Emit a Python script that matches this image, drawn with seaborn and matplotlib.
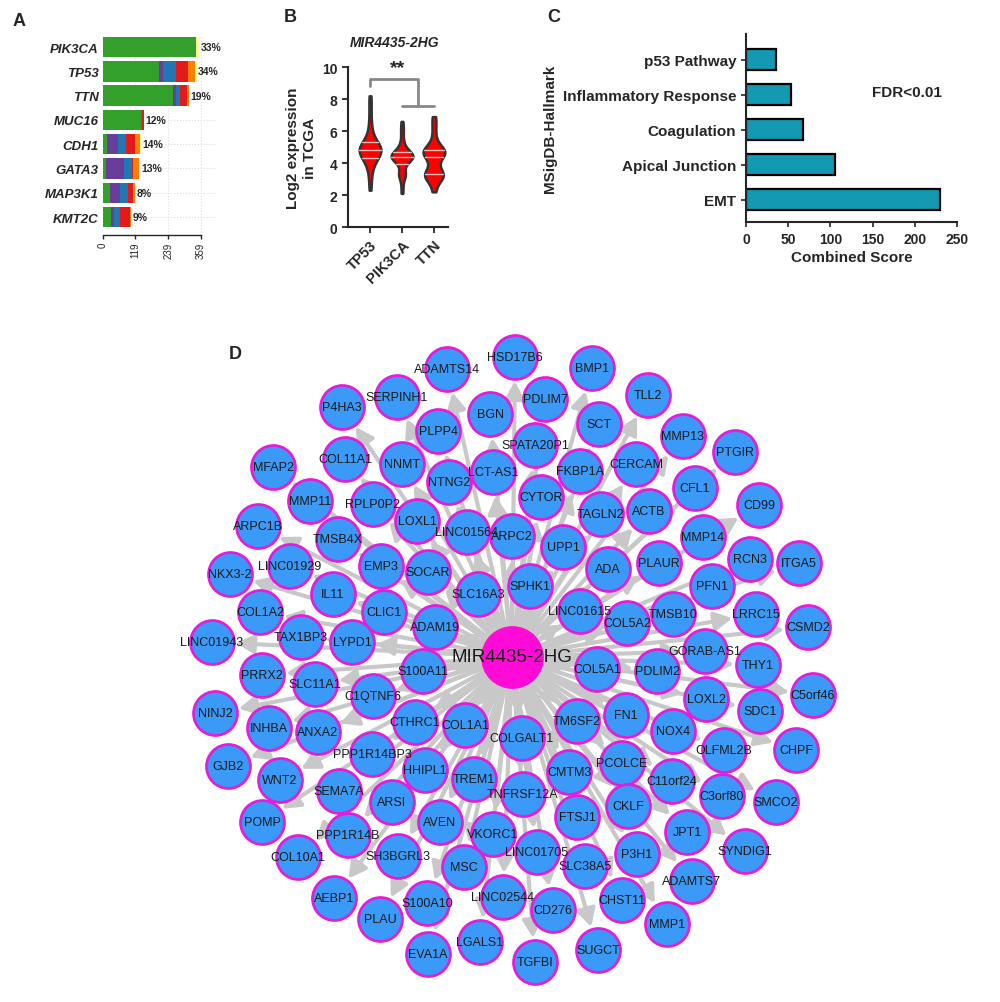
import numpy as np
import pandas as pd
import matplotlib
matplotlib.use("Agg")
import matplotlib.pyplot as plt
import seaborn as sns

sns.set_theme(style="ticks")
plt.rcParams['font.family'] = ['Liberation Sans', 'DejaVu Sans']

W, H = 1000, 1003

# ---------------- Panel A: mutation counts per gene ----------------
genes_a = ["PIK3CA", "TP53", "TTN", "MUC16", "CDH1", "GATA3", "MAP3K1", "KMT2C"]
pct_a = ["33%", "34%", "19%", "12%", "14%", "13%", "8%", "9%"]
missense = [342, 205, 258, 141, 15, 12, 25, 28]
frame_ins = [0, 16, 11, 0, 39, 66, 37, 13]
frame_del = [0, 46, 12, 4, 32, 27, 29, 20]
nonsense = [0, 45, 27, 6, 33, 5, 20, 37]
splice = [0, 27, 7, 0, 16, 24, 5, 4]
inframe = [13, 6, 3, 0, 6, 3, 2, 2]
ticks_a = [0, 119, 239, 359]

# ---------------- Panel B: expression (log2) ----------------
groups_b = ["TP53", "PIK3CA", "TTN"]
expr_tp53 = [2.3, 2.8, 3.2, 3.5, 3.7, 3.9, 4.0, 4.1, 4.2, 4.3, 4.3, 4.4, 4.5, 4.5,
             4.6, 4.6, 4.7, 4.7, 4.8, 4.8, 4.8, 4.9, 4.9, 5.0, 5.0, 5.1, 5.1, 5.2,
             5.3, 5.3, 5.4, 5.5, 5.6, 5.8, 6.0, 6.3, 6.7, 7.2, 7.7, 8.2]
expr_pik3ca = [2.1, 2.6, 3.0, 3.2, 3.3, 3.3, 3.4, 3.7, 3.9, 4.0, 4.1, 4.2, 4.2, 4.3,
               4.3, 4.3, 4.4, 4.4, 4.4, 4.4, 4.5, 4.5, 4.5, 4.6, 4.6, 4.7, 4.7, 4.8,
               4.9, 5.0, 5.2, 5.5, 5.9, 6.2, 6.6]
expr_ttn = [2.2, 2.6, 2.9, 3.0, 3.1, 3.2, 3.2, 3.3, 3.3, 3.4, 3.5, 3.7, 3.9, 4.1,
            4.3, 4.4, 4.5, 4.6, 4.6, 4.7, 4.7, 4.8, 4.8, 4.9, 5.0, 5.2, 5.5, 6.0,
            6.5, 6.9]

# ---------------- Panel C: enrichment ----------------
terms_c = ["p53 Pathway", "Inflammatory Response", "Coagulation", "Apical Junction", "EMT"]
scores_c = [35, 53, 67, 105, 230]

# ---------------- Panel D: network (layout coordinates) ----------------
hub_name = "MIR4435-2HG"
hub_x, hub_y = 512, 658
node_names = [
    "HSD17B6", "ADAMTS14", "BMP1", "TLL2", "SERPINH1", "P4HA3", "PDLIM7", "BGN", "SCT",
    "MMP13", "PLPP4", "SPATA20P1", "PTGIR", "COL11A1", "NNMT", "LCT-AS1", "FKBP1A",
    "CERCAM", "MFAP2", "NTNG2", "CFL1", "MMP11", "RPLP0P2", "CYTOR", "CD99", "LOXL1",
    "TAGLN2", "ACTB", "ARPC1B", "LINC01564", "ARPC2", "MMP14", "TMSB4X", "UPP1", "RCN3",
    "ITGA5", "LINC01929", "EMP3", "SOCAR", "ADA", "PLAUR", "PFN1", "NKX3-2", "IL11",
    "SLC16A3", "SPHK1", "COL1A2", "CLIC1", "LINC01615", "COL5A2", "TMSB10", "LRRC15",
    "CSMD2", "ADAM19", "TAX1BP3", "LYPD1", "LINC01943", "GORAB-AS1", "THY1", "S100A11",
    "COL5A1", "PDLIM2", "PRRX2", "SLC11A1", "C5orf46", "C1QTNF6", "LOXL2", "SDC1",
    "NINJ2", "INHBA", "ANXA2", "CTHRC1", "COL1A1", "TM6SF2", "FN1", "NOX4", "CHPF",
    "COLGALT1", "OLFML2B", "PPP1R14BP3", "GJB2", "WNT2", "HHIPL1", "TREM1", "CMTM3",
    "PCOLCE", "C11orf24", "C3orf80", "SEMA7A", "TNFRSF12A", "SMCO2", "ARSI", "CKLF",
    "FTSJ1", "POMP", "AVEN", "VKORC1", "JPT1", "PPP1R14B", "SYNDIG1", "P3H1",
    "SH3BGRL3", "LINC01705", "SLC38A5", "COL10A1", "MSC", "ADAMTS7", "AEBP1", "PLAU",
    "S100A10", "LINC02544", "CD276", "CHST11", "MMP1", "SUGCT", "EVA1A", "LGALS1", "TGFBI",
]
node_x = [
    515, 447, 592, 648, 397, 342, 545, 490, 599,
    683, 438, 535, 735, 345, 402, 493, 580,
    636, 273, 449, 695, 310, 373, 541, 759, 417,
    601, 649, 258, 467, 512, 703, 338, 563, 750,
    799, 290, 381, 428, 608, 659, 712, 230, 333,
    478, 530, 260, 384, 580, 627, 673, 756,
    808, 435, 301, 352, 212, 705, 758, 423,
    597, 657, 262, 315, 813, 373, 706, 760,
    215, 269, 318, 415, 465, 577, 626, 673, 796,
    522, 724, 372, 228, 280, 425, 474, 569,
    622, 672, 722, 339, 523, 776, 392, 628,
    577, 262, 440, 493, 687, 348, 745, 637,
    398, 537, 585, 298, 464, 692, 334, 380,
    427, 503, 553, 622, 667, 598, 428, 480, 535,
]
node_y = [
    358, 370, 369, 396, 398, 408, 400, 415, 425,
    437, 432, 446, 453, 460, 465, 473, 472,
    465, 468, 483, 489, 502, 505, 498, 506, 522,
    515, 512, 527, 533, 537, 538, 540, 548, 560,
    564, 567, 567, 573, 570, 564, 587, 575, 595,
    595, 587, 613, 613, 612, 624, 615, 615,
    628, 628, 638, 643, 643, 652, 666, 672,
    670, 672, 676, 685, 696, 697, 700, 712,
    714, 729, 733, 723, 726, 722, 716, 732, 751,
    739, 751, 755, 767, 781, 771, 780, 773,
    764, 782, 797, 792, 795, 803, 803, 807,
    818, 823, 823, 835, 833, 836, 852, 855,
    857, 853, 867, 858, 868, 882, 899, 920,
    904, 898, 911, 901, 925, 951, 955, 943, 963,
]

fig = plt.figure(figsize=(W / 100, H / 100), dpi=100)


def fx(px):
    return px / W


def fy(py):
    return 1 - py / H


# ================= Panel D =================
axd = fig.add_axes([0, 0, 1, 1])
axd.set_xlim(0, W)
axd.set_ylim(H, 0)
axd.axis("off")
axd.patch.set_alpha(0)

node_r = 23
for x, y in zip(node_x, node_y):
    dx, dy = x - hub_x, y - hub_y
    d = np.hypot(dx, dy)
    ux, uy = dx / d, dy / d
    axd.annotate("", xy=(x - ux * (node_r + 1), y - uy * (node_r + 1)),
                 xytext=(hub_x + ux * 20, hub_y + uy * 20),
                 arrowprops=dict(arrowstyle="-|>,head_length=0.75,head_width=0.4",
                                 color="#c8c8c8", lw=3.0, shrinkA=0, shrinkB=0,
                                 mutation_scale=14),
                 zorder=1)

axd.scatter(node_x, node_y, s=1000, color="#3b99f7", edgecolors="#e21fd8",
            linewidths=2.0, zorder=2)
axd.scatter([hub_x], [hub_y], s=1950, color="#ff0ad6", edgecolors="#ff0ad6",
            linewidths=1, zorder=2)
for name, x, y in zip(node_names, node_x, node_y):
    axd.text(x, y, name, ha="center", va="center", fontsize=9, color="#1a1a1a", zorder=3)
axd.text(hub_x, hub_y, hub_name, ha="center", va="center", fontsize=13.5,
         color="#1a1a1a", zorder=3)

# ================= Panel A =================
axa = fig.add_axes([fx(103), fy(236), fx(216) - fx(103), 200 / H])
colors_a = ["#33a02c", "#6a3d9a", "#1f78b4", "#e31a1c", "#ff7f00", "#ffff99"]
layers = [missense, frame_ins, frame_del, nonsense, splice, inframe]
ypos = np.arange(len(genes_a))
for yv in ypos:
    axa.axhline(yv, color="#dddddd", ls=":", lw=0.8, zorder=0)
for xv in ticks_a[1:]:
    axa.axvline(xv, color="#dddddd", ls=":", lw=0.8, zorder=0)
left = np.zeros(len(genes_a))
for vals, col in zip(layers, colors_a):
    axa.barh(ypos, vals, left=left, height=0.84, color=col, linewidth=0, zorder=2)
    left = left + np.array(vals)
for yv, tot, p in zip(ypos, left, pct_a):
    axa.text(tot + 4, yv, p, ha="left", va="center", fontsize=7.5, fontweight="bold")
axa.set_xlim(0, 415)
axa.set_ylim(7.74, -0.5)
axa.set_yticks(ypos)
axa.set_yticklabels(genes_a, fontsize=9.5, fontweight="bold", fontstyle="italic")
axa.tick_params(axis="y", length=0, pad=3)
axa.set_xticks(ticks_a)
axa.set_xticklabels([str(t) for t in ticks_a], rotation=90, fontsize=7)
axa.tick_params(axis="x", length=3, width=1, pad=2)
for s in ["top", "right", "left"]:
    axa.spines[s].set_visible(False)
axa.spines["bottom"].set_bounds(0, 359)
axa.spines["bottom"].set_linewidth(1)
fig.text(fx(19), fy(22), "A", fontsize=13, fontweight="bold", ha="center", va="center")

# ================= Panel B =================
df_b = pd.DataFrame({
    "group": ["TP53"] * len(expr_tp53) + ["PIK3CA"] * len(expr_pik3ca) + ["TTN"] * len(expr_ttn),
    "expr": expr_tp53 + expr_pik3ca + expr_ttn,
})
axb = fig.add_axes([fx(348), fy(228), 100 / W, 160 / H])
sns.violinplot(data=df_b, x="group", y="expr", order=groups_b, ax=axb, color="#ff0000",
               linecolor="#333333", linewidth=1.8, cut=0, bw_adjust=0.6, width=0.68,
               density_norm="width", inner="quart",
               inner_kws=dict(color="#f2b8b8", linewidth=1.0), saturation=1)
for ln in axb.lines:
    ln.set_linestyle("-")
axb.set_xlim(-0.69, 2.44)
axb.set_ylim(0, 10)
axb.set_yticks([0, 2, 4, 6, 8, 10])
axb.set_yticklabels(["0", "2", "4", "6", "8", "10"], fontsize=10, fontweight="bold")
axb.set_xticks([0, 1, 2])
axb.set_xticklabels(groups_b, rotation=45, ha="right", rotation_mode="anchor",
                    fontsize=10.5, fontweight="bold")
axb.tick_params(axis="both", width=1.3, length=4)
axb.set_xlabel("")
axb.set_ylabel("Log2 expression\nin TCGA", fontsize=11, fontweight="bold", labelpad=4)
for s in ["top", "right"]:
    axb.spines[s].set_visible(False)
for s in ["left", "bottom"]:
    axb.spines[s].set_linewidth(1.5)
axb.plot([0, 0, 1.5, 1.5], [8.8, 9.25, 9.25, 7.56], color="#888888", lw=2, clip_on=False)
axb.plot([1, 2], [7.56, 7.56], color="#888888", lw=2, clip_on=False)
axb.text(0.85, 9.45, "**", ha="center", va="bottom", fontsize=14, fontweight="bold")
fig.text(fx(395), fy(43), "MIR4435-2HG", fontsize=10, fontweight="bold",
         fontstyle="italic", ha="center", va="center")
fig.text(fx(290), fy(18), "B", fontsize=13, fontweight="bold", ha="center", va="center")

# ================= Panel C =================
df_c = pd.DataFrame({"term": terms_c, "score": scores_c})
axc = fig.add_axes([fx(746), fy(223), 211 / W, 188 / H])
sns.barplot(data=df_c, x="score", y="term", order=terms_c, ax=axc, color="#1399b2",
            saturation=1, edgecolor="black", linewidth=1.6, width=0.6)
axc.set_xlim(0, 250)
axc.set_ylim(4.63, -0.73)
axc.set_xticks([0, 50, 100, 150, 200, 250])
axc.set_xticklabels(["0", "50", "100", "150", "200", "250"], fontsize=10, fontweight="bold")
axc.set_yticks(range(len(terms_c)))
axc.set_yticklabels(terms_c, fontsize=11, fontweight="bold")
axc.tick_params(axis="both", width=1.2, length=3.5)
axc.set_xlabel("Combined Score", fontsize=11, fontweight="bold", labelpad=3)
axc.set_ylabel("MSigDB-Hallmark", fontsize=11, fontweight="bold", labelpad=4)
for s in ["top", "right"]:
    axc.spines[s].set_visible(False)
for s in ["left", "bottom"]:
    axc.spines[s].set_linewidth(1.5)
fig.text(fx(907), fy(93), "FDR<0.01", fontsize=11, fontweight="bold", ha="center", va="center")
fig.text(fx(554), fy(17), "C", fontsize=13, fontweight="bold", ha="center", va="center")

fig.text(fx(235), fy(355), "D", fontsize=13, fontweight="bold", ha="center", va="center")

fig.savefig("out.png", dpi=100)
